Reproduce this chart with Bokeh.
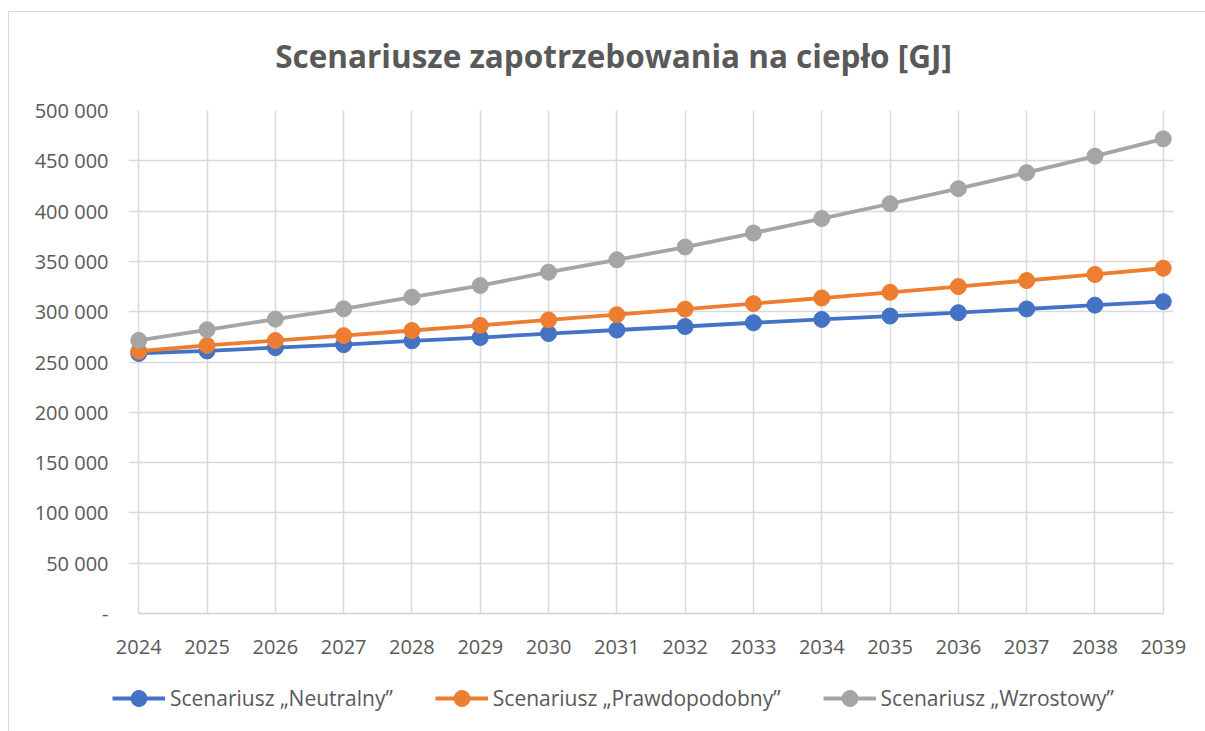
from bokeh.plotting import figure
from bokeh.layouts import column
from bokeh.models import (FixedTicker, CustomJSTickFormatter, Legend, LegendItem, Label,
                          Range1d)
from bokeh.embed import file_html
from bokeh.resources import INLINE

years = list(range(2024, 2040))
neutralny = [258500, 261000, 264200, 267200, 271000, 274300, 278300, 281800,
             285300, 289000, 292300, 295700, 299000, 302700, 306500, 310000]
prawdopodobny = [260700, 266500, 271300, 276200, 281300, 286400, 291800, 297000,
                 302500, 308000, 313600, 319300, 325000, 331000, 337000, 343200]
wzrostowy = [271500, 282000, 292600, 302900, 314400, 326000, 339300, 351600,
             364300, 378200, 392600, 407300, 422300, 438200, 454600, 471800]
y_ticks = list(range(0, 500001, 50000))
series_names = ["Scenariusz \u201eNeutralny\u201d", "Scenariusz \u201ePrawdopodobny\u201d",
                "Scenariusz \u201eWzrostowy\u201d"]
title_text = "Scenariusze zapotrzebowania na ciepło [GJ]"
colors = ["#4472C4", "#ED7D31", "#A5A5A5"]

FONT = "Open Sans"
TXT = "#595959"
W = 1196


def strip(height):
    f = figure(width=W, height=height, output_backend="svg", toolbar_location=None,
               x_axis_type=None, y_axis_type=None,
               x_range=Range1d(0, W), y_range=Range1d(0, height),
               min_border_left=0, min_border_right=0, min_border_top=0,
               min_border_bottom=0)
    f.frame_align = False
    f.outline_line_color = None
    f.background_fill_color = "white"
    f.border_fill_color = "white"
    return f


# title strip
tf = strip(80)
tf.add_layout(Label(x=604, y=37, text=title_text, text_align="center",
                    text_baseline="alphabetic", text_font=FONT,
                    text_font_size="31.5px", text_font_style="bold",
                    text_color=TXT))

# main chart
pad = 0.15
p = figure(width=W, height=581, output_backend="svg", toolbar_location=None,
           x_range=(years[0] - pad, years[-1] + pad), y_range=(0, 500000),
           min_border_left=119, min_border_right=32, min_border_top=18,
           min_border_bottom=60)
p.frame_align = False
p.outline_line_color = None
p.background_fill_color = "white"
p.border_fill_color = "white"

p.xaxis.ticker = FixedTicker(ticks=years)
p.yaxis.ticker = FixedTicker(ticks=y_ticks)
p.yaxis.formatter = CustomJSTickFormatter(code="""
    if (tick == 0) return '-';
    return tick.toString().replace(/\\B(?=(\\d{3})+(?!\\d))/g, ' ');
""")
for ax in (p.xaxis[0], p.yaxis[0]):
    ax.major_tick_line_color = None
    ax.minor_tick_line_color = None
    ax.major_label_text_font = FONT
    ax.major_label_text_font_size = "20px"
    ax.major_label_text_color = TXT
p.yaxis.axis_line_color = None
p.yaxis.major_label_standoff = 14
p.xaxis.axis_line_color = "#d0d0d0"
p.xaxis.axis_line_width = 1.5
p.xaxis.bounds = (years[0], years[-1])
p.xaxis.major_label_standoff = 20

p.xgrid.ticker = FixedTicker(ticks=years)
p.ygrid.ticker = FixedTicker(ticks=y_ticks)
p.ygrid.bounds = (years[0], years[-1])
p.grid.grid_line_color = "#d9d9d9"
p.grid.grid_line_width = 1.5

series = [neutralny, prawdopodobny, wzrostowy]
for vals, c in zip(series, colors):
    p.line(years, vals, line_color=c, line_width=3.8)
    p.scatter(years, vals, size=16, fill_color=c, line_color=c)

# legend strip below the chart (same series, drawn out of view)
lf = strip(58)
lf.y_range = Range1d(0, 1)
items = []
for name, vals, c in zip(series_names, series, colors):
    l = lf.line(years, vals, line_color=c, line_width=3.8)
    s = lf.scatter(years, vals, size=16, fill_color=c, line_color=c)
    items.append(LegendItem(label=name, renderers=[l, s]))

legend = Legend(items=items, orientation="horizontal", location=(103, 13),
                label_text_font=FONT, label_text_font_size="21px",
                label_text_color=TXT, glyph_width=53, glyph_height=40,
                spacing=42, border_line_color=None, background_fill_alpha=0,
                margin=0, padding=0, label_standoff=5)
lf.add_layout(legend, "center")

layout = column(tf, p, lf, spacing=0)
layout.styles = {"margin-left": "8px", "margin-top": "11px",
                 "border-left": "1px solid #d9d9d9", "border-top": "1px solid #d9d9d9"}

open("out.html", "w").write(file_html(layout, INLINE))
